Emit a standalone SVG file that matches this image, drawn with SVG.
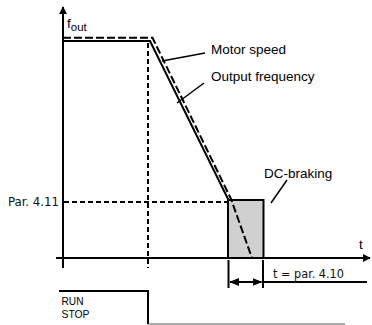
<svg xmlns="http://www.w3.org/2000/svg" width="372" height="325" viewBox="0 0 372 325">
<style>
.lbl{font-family:"Liberation Sans",Arial,sans-serif;font-size:13.5px;fill:#000}
.din{font-family:"DejaVu Sans Condensed","Liberation Sans",sans-serif;font-size:11.5px;fill:#111}
.sm{font-family:"Liberation Sans",Arial,sans-serif;font-size:10.5px;fill:#000}
.ax{stroke:#000;stroke-width:2;fill:none}
.dsh{stroke:#000;stroke-width:2;fill:none;stroke-dasharray:5 3}
.lead{stroke:#000;stroke-width:1.5;fill:none}
</style>
<defs>
<marker id="ah" viewBox="0 0 10 10" refX="9" refY="5" markerWidth="4" markerHeight="4" orient="auto-start-reverse" markerUnits="strokeWidth">
<path d="M0,0 L10,5 L0,10 z" fill="#000"/>
</marker>
<marker id="ahs" viewBox="0 0 10 10" refX="9" refY="5" markerWidth="5" markerHeight="5" orient="auto-start-reverse" markerUnits="strokeWidth">
<path d="M0,1 L10,5 L0,9 z" fill="#000"/>
</marker>
</defs>
<g id="axes">
<line class="ax" x1="63" y1="268" x2="63" y2="7" marker-end="url(#ah)"/>
<line class="ax" x1="56" y1="258" x2="370" y2="258" marker-end="url(#ah)"/>
<text class="lbl" x="67" y="28">f<tspan font-size="11.5" dy="3">out</tspan></text>
<text class="lbl" x="359" y="249">t</text>
</g>
<g id="dc-braking-box">
<rect x="228" y="200" width="35.5" height="58" fill="#d0d0d0" stroke="#000" stroke-width="2"/>
<text class="lbl" x="264" y="178">DC-braking</text>
</g>
<g id="connectors">
<line class="dsh" x1="148" y1="43" x2="148" y2="268"/>
<line class="dsh" x1="64" y1="202" x2="227" y2="202"/>
<polyline points="63,41 150,41 228.5,200" stroke="#000" stroke-width="2" fill="none"/>
<polyline points="63,37.8 152.5,37.8 231,199 252,258" stroke="#000" stroke-width="2" fill="none" stroke-dasharray="8 3"/>
<line class="lead" x1="162" y1="61" x2="205" y2="53"/>
<line class="lead" x1="177" y1="103" x2="204" y2="83"/>
<line class="lead" x1="271" y1="203" x2="287" y2="180"/>
<line class="ax" x1="228.5" y1="260" x2="228.5" y2="288"/>
<line class="ax" x1="263" y1="260" x2="263" y2="288"/>
<line x1="230" y1="282" x2="261.5" y2="282" stroke="#000" stroke-width="2" marker-start="url(#ahs)" marker-end="url(#ahs)"/>
<line class="ax" x1="263" y1="282" x2="367" y2="282"/>
</g>
<g id="labels">
<text class="lbl" x="211" y="54">Motor speed</text>
<text class="lbl" x="211" y="81">Output frequency</text>
<text class="din" x="8" y="206" textLength="51" lengthAdjust="spacingAndGlyphs">Par. 4.11</text>
<text class="din" x="273" y="278" textLength="71" lengthAdjust="spacingAndGlyphs">t = par. 4.10</text>
</g>
<g id="run-stop">
<polyline points="59,291 148,291 148,324" stroke="#000" stroke-width="2" fill="none"/>
<line x1="148" y1="324" x2="345" y2="324" stroke="#555" stroke-width="1"/>
<text class="sm" x="61.5" y="305" textLength="22" lengthAdjust="spacingAndGlyphs">RUN</text>
<text class="sm" x="61.5" y="317.5" textLength="28" lengthAdjust="spacingAndGlyphs">STOP</text>
</g>
</svg>
